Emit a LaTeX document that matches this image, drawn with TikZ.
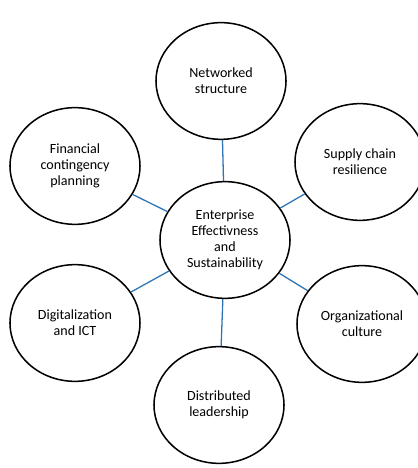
\documentclass[tikz,border=0pt]{standalone}
\usepackage{fontspec}
\setmainfont{Carlito}
\usepackage{xcolor}
\usepackage{tikz}
\usetikzlibrary{shapes.geometric}
\definecolor{linkblue}{RGB}{46,117,182}

\begin{document}
\begin{tikzpicture}[
    every node/.style={font=\fontsize{12}{13.8}\selectfont, align=center},
    topic/.style={ellipse, draw=black, line width=1.3pt, minimum width=3.9cm, minimum height=3.5cm, inner sep=0pt},
    link/.style={linkblue, line width=1.1pt},
]
% Canvas
\useasboundingbox (-6.75,-6.84) rectangle (5.79,7.2);

% Hub
\node[topic] (hub) at (0,0) {Enterprise\\Effectivness\\and\\Sustainability};

% Outer circles
\node[topic] (net) at (-0.12, 4.77) {Networked\\structure};
\node[topic] (sup) at (4.05, 2.34) {Supply chain\\resilience};
\node[topic] (org) at (4.11,-2.52) {Organizational\\culture};
\node[topic] (dist) at (-0.18,-4.95) {Distributed\\leadership};
\node[topic] (dig) at (-4.5,-2.49) {Digitalization\\and ICT};
\node[topic] (fin) at (-4.5, 2.22) {Financial\\contingency\\planning};

% Connectors
\foreach \n in {net,sup,org,dist,dig,fin} {
    \draw[link] (hub) -- (\n);
}
\end{tikzpicture}
\end{document}
